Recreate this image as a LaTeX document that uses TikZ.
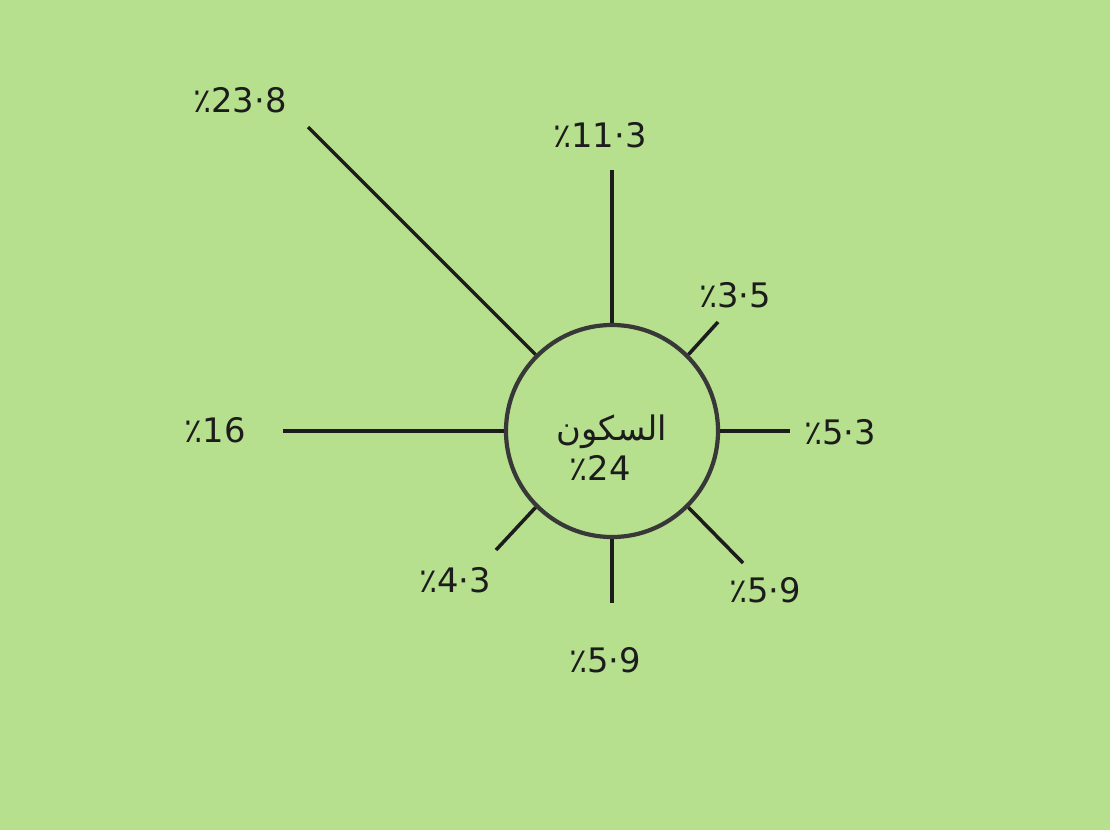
\documentclass[tikz,border=0pt]{standalone}
\usepackage{fontspec}
\newfontfamily\arabicfont[Script=Arabic]{DejaVu Sans}
\newfontfamily\numfont{DejaVu Sans}
\TeXXeTstate=1
\usetikzlibrary{calc}
\definecolor{cpaper}{HTML}{B6DF8E}
\definecolor{cink}{HTML}{1C1C1C}
\definecolor{cring}{HTML}{383838}
\newcommand{\pctlabel}[1]{{\arabicfont ٪}{\numfont#1}}
\tikzset{
  every picture/.style={x=0.025cm, y=-0.025cm},
  core/.style={circle, draw=cring, line width=3pt, minimum size=5.3cm, inner sep=0pt, align=center},
  spoke/.style={draw=cink, line width=2.5pt},
  share/.style={font=\fontsize{24}{28}\selectfont, text=cink, inner sep=2pt},
}

\begin{document}
\begin{tikzpicture}
  \fill[cpaper] (0,0) rectangle (1110,830);
  \useasboundingbox (0,0) rectangle (1110,830);

  \node[core] (hub) at (612,431) {};
  \node[share, font=\arabicfont\fontsize{24}{28}\selectfont] (name) at (612,432) {\beginR السكون\endR};
  \node[share] (hubpct) at (600,468) {\pctlabel{24}};

  % free ends of the spokes
  \coordinate (eNW) at (308,127);
  \coordinate (eN)  at (612,170);
  \coordinate (eNE) at (718,322);
  \coordinate (eE)  at (790,431);
  \coordinate (eSE) at (743,563);
  \coordinate (eS)  at (612,603);
  \coordinate (eSW) at (496,550);
  \coordinate (eW)  at (283,431);

  \draw[spoke] (hub.135) -- (eNW);
  \draw[spoke] (hub.90)  -- (eN);
  \draw[spoke] (hub.45)  -- (eNE);
  \draw[spoke] (hub.0)   -- (eE);
  \draw[spoke] (hub.-45) -- (eSE);
  \draw[spoke] (hub.-90) -- (eS);
  \draw[spoke] (hub.-135) -- (eSW);
  \draw[spoke] (hub.180) -- (eW);

  % shares
  \node[share] (pNW) at (240,100) {\pctlabel{23·8}};
  \node[share] (pN)  at (600,135) {\pctlabel{11·3}};
  \node[share] (pNE) at (735,295) {\pctlabel{3·5}};
  \node[share] (pE)  at (840,432) {\pctlabel{5·3}};
  \node[share] (pSE) at (765,590) {\pctlabel{5·9}};
  \node[share] (pS)  at (605,660) {\pctlabel{5·9}};
  \node[share] (pSW) at (455,580) {\pctlabel{4·3}};
  \node[share] (pW)  at (215,430) {\pctlabel{16}};
\end{tikzpicture}
\end{document}
